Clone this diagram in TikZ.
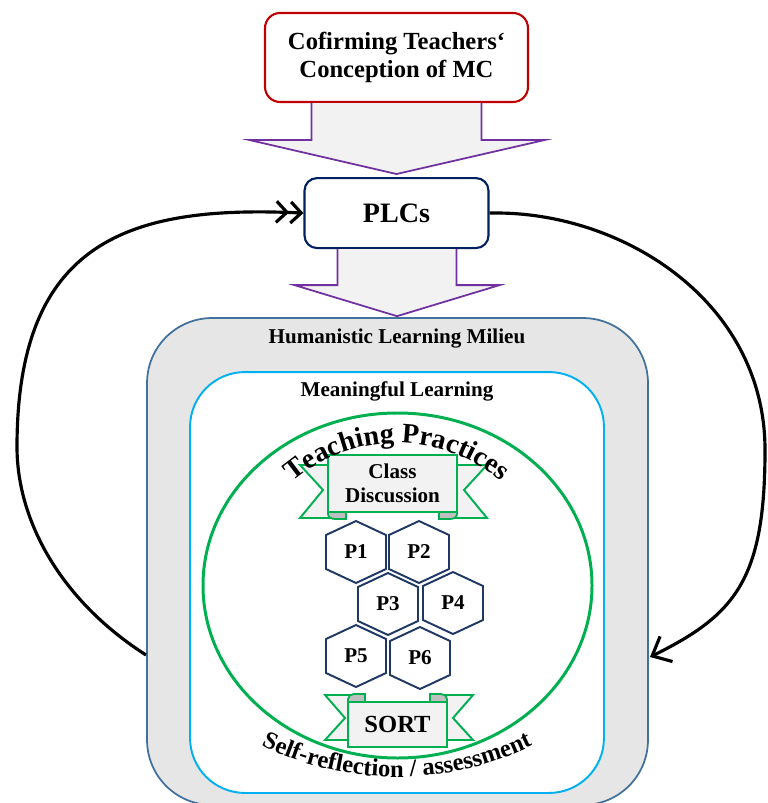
\documentclass[tikz,border=0pt]{standalone}
\usepackage{fontspec}
\setmainfont{Liberation Serif}
\usetikzlibrary{arrows.meta,calc,decorations.text,positioning}

\definecolor{boxred}{HTML}{C00000}
\definecolor{plcnavy}{HTML}{002060}
\definecolor{arrowpurple}{HTML}{7030A0}
\definecolor{arrowfill}{HTML}{F2F2F2}
\definecolor{milieufill}{HTML}{E6E6E6}
\definecolor{milieuline}{HTML}{41719C}
\definecolor{learnline}{HTML}{00B0F0}
\definecolor{practicegreen}{HTML}{00B050}
\definecolor{hexnavy}{HTML}{1F3864}
\definecolor{foldgray}{HTML}{BFBFBF}

\tikzset{
    titlebox/.style = {draw = boxred, line width = 1.2pt, rounded corners = 0.3cm, fill = white,
        minimum width = 5.26cm, minimum height = 1.78cm, align = center,
        font = \fontsize{14}{15.5}\selectfont\bfseries},
    plcbox/.style = {draw = plcnavy, line width = 1.2pt, rounded corners = 0.25cm, fill = white,
        minimum width = 3.68cm, minimum height = 1.4cm, font = \fontsize{16}{16}\selectfont\bfseries},
    blockarrow/.style = {draw = arrowpurple, line width = 1pt, fill = arrowfill},
    milieubox/.style = {draw = milieuline, line width = 1pt, fill = milieufill, rounded corners = 1.3cm,
        minimum width = 10.02cm, minimum height = 9.74cm},
    learnbox/.style = {draw = learnline, line width = 1.1pt, fill = white, rounded corners = 1.1cm,
        minimum width = 8.28cm, minimum height = 8.42cm},
    layertitle/.style = {font = \fontsize{12}{12}\selectfont\bfseries},
    practicering/.style = {draw = practicegreen, line width = 1.7pt},
    ribbontail/.style = {draw = practicegreen, line width = 1.1pt, fill = arrowfill, line join = miter},
    ribbonfold/.style = {draw = practicegreen, line width = 1pt, fill = foldgray},
    ribbonfront/.style = {draw = practicegreen, line width = 1.2pt, fill = arrowfill, align = center},
    hexline/.style = {draw = hexnavy, line width = 1.1pt},
    hexlabel/.style = {font = \fontsize{12}{12}\selectfont\bfseries},
    loopline/.style = {line width = 1.8pt},
}

\begin{document}
\begin{tikzpicture}[x = 0.02cm, y = 0.02cm]
    \useasboundingbox (0, 0) rectangle (767, -803);

    \node[titlebox] (concept) at (396.5, -57.5) {Cofirming Teachers‘\\Conception of MC};
    \node[plcbox, below = 1.48cm of concept] (plc) {PLCs};

    \node[milieubox] (milieu) at (397.5, -561.5) {};
    \node[learnbox] (learn) at (397, -582.5) {};
    \node[layertitle] (milieutext) at (397, -339) {Humanistic Learning Milieu};
    \node[layertitle] (learntext) at (397, -391) {Meaningful Learning};

    \draw[practicering] (397.5, -585.5) ellipse [x radius = 194.5, y radius = 172.5];

    % block arrows
    \draw[blockarrow] ($(concept.south) + (-85, 0)$) |- ($(concept.south) + (-147, -37)$)
        -- ($(plc.north) + (0, 3)$) -- ($(concept.south) + (148, -37)$) -| ($(concept.south) + (85, 0)$);
    \draw[blockarrow] ($(plc.south) + (-59, 0)$) |- ($(plc.south) + (-102, -36)$)
        -- ($(milieu.north) + (-0.5, 1)$) -- ($(plc.south) + (103, -36)$) -| ($(plc.south) + (60, 0)$);

    % class discussion ribbon
    \draw[ribbontail] (340, -465) -- (300, -465) -- (323, -490) -- (300, -518) -- (340, -518);
    \draw[ribbontail] (446, -465) -- (487, -465) -- (464, -490) -- (487, -518) -- (446, -518);
    \draw[ribbonfold] (328, -508) -- (328, -514) to[out = -90, in = 180] (335, -519) -- (346, -519) -- (346, -511);
    \draw[ribbonfold] (457, -508) -- (457, -514) to[out = -90, in = 0] (450, -519) -- (439, -519) -- (439, -511);
    \node[ribbonfront, minimum width = 2.58cm, minimum height = 1.14cm,
        font = \fontsize{12}{13.5}\selectfont\bfseries] (discussion) at (392.5, -483.5) {Class\\Discussion};

    % sort ribbon
    \draw[ribbontail] (360, -695) -- (325, -695) -- (345, -718) -- (325, -740) -- (360, -740);
    \draw[ribbontail] (435, -695) -- (473, -695) -- (453, -718) -- (473, -740) -- (435, -740);
    \draw[ribbonfold] (348, -705) -- (348, -699) to[out = 90, in = 180] (354, -694) -- (365, -694) -- (365, -702);
    \draw[ribbonfold] (447, -705) -- (447, -699) to[out = 90, in = 0] (441, -694) -- (430, -694) -- (430, -702);
    \node[ribbonfront, minimum width = 1.98cm, minimum height = 0.9cm,
        font = \fontsize{14}{14}\selectfont\bfseries] (sort) at (397.5, -724.5) {SORT};

    % practices
    \foreach \p/\x/\y in {P1/356/552, P2/419/552, P3/388/604, P4/453/603, P5/356/656, P6/420/658}{
        \node[hexlabel] (\p) at (\x, -\y) {\p};
        \draw[hexline] (\p.center) ++(0, 31) -- ++(30, -14) -- ++(0, -34) -- ++(-30, -14)
            -- ++(-30, 14) -- ++(0, 34) -- cycle;
    }

    \path[decorate, decoration = {text along path, text align = center,
        text = {|\fontsize{16}{16}\selectfont\bfseries|Teaching Practices}}]
        (258.4, -523) arc[start angle = 150, end angle = 30, radius = 160];
    \path[decorate, decoration = {text along path, text align = center,
        text = {|\fontsize{14}{14}\selectfont\bfseries|Self-reflection / assessment}}]
        (242.5, -735.6) arc[start angle = 240, end angle = 300, radius = 309];

    % feedback loops
    \coordinate (backL) at (146, -655);
    \coordinate (backR) at (650, -657);
    \draw[loopline, -{Straight Barb[length = 6pt, width = 12pt] Straight Barb[length = 6pt, width = 12pt]}]
        (backL) .. controls (60, -600) and (17, -520) .. (17, -447)
        .. controls (17, -240) and (130, -205) .. (plc.west);
    \draw[loopline, -{Straight Barb[length = 9pt, width = 16pt]}]
        (plc.east) .. controls (620, -210) and (765, -300) .. (765, -450)
        .. controls (765, -580) and (735, -615) .. (backR);
\end{tikzpicture}
\end{document}
